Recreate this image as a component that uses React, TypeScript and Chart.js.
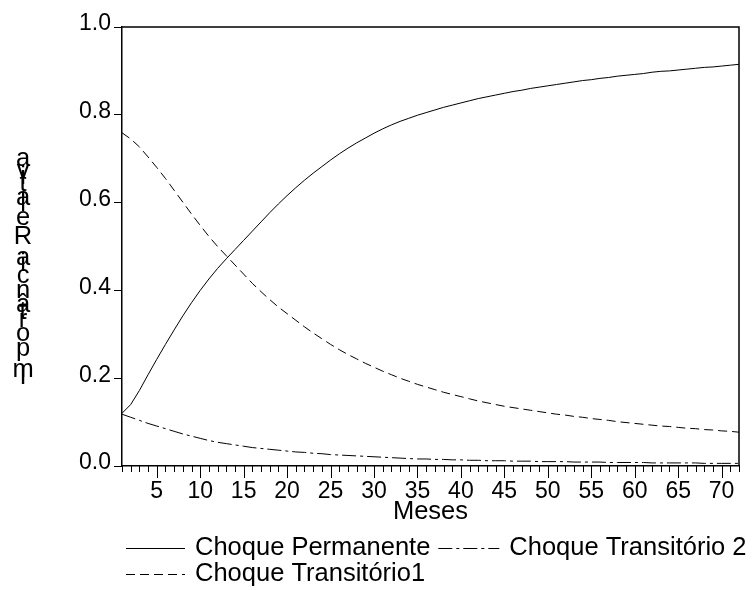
import React, { useEffect, useRef } from 'react';
import { Chart, registerables } from 'chart.js';

Chart.register(...registerables);

// Horizon in months (x categories)
const months: number[] = Array.from({ length: 72 }, (_, i) => i + 1);

// Share of the forecast-error variance explained by each shock
const permanente: number[] = [
  0.120, 0.140, 0.172, 0.208, 0.243, 0.277, 0.310, 0.342, 0.372, 0.400,
  0.426, 0.450, 0.472, 0.493, 0.514, 0.535, 0.556, 0.577, 0.597, 0.616,
  0.634, 0.651, 0.667, 0.682, 0.697, 0.711, 0.724, 0.736, 0.747, 0.758,
  0.768, 0.777, 0.785, 0.792, 0.799, 0.805, 0.811, 0.817, 0.822, 0.827,
  0.832, 0.837, 0.841, 0.845, 0.849, 0.853, 0.856, 0.860, 0.863, 0.866,
  0.869, 0.872, 0.875, 0.878, 0.880, 0.883, 0.885, 0.888, 0.890, 0.892,
  0.894, 0.897, 0.899, 0.900, 0.902, 0.904, 0.906, 0.908, 0.909, 0.911,
  0.913, 0.915,
];

const transitorio1: number[] = [
  0.759, 0.745, 0.727, 0.704, 0.680, 0.655, 0.628, 0.601, 0.574, 0.548,
  0.523, 0.500, 0.479, 0.458, 0.437, 0.416, 0.397, 0.379, 0.362, 0.347,
  0.332, 0.317, 0.303, 0.290, 0.277, 0.265, 0.254, 0.244, 0.234, 0.225,
  0.216, 0.208, 0.200, 0.193, 0.186, 0.180, 0.174, 0.168, 0.163, 0.158,
  0.153, 0.148, 0.144, 0.140, 0.136, 0.133, 0.130, 0.127, 0.124, 0.121,
  0.118, 0.116, 0.113, 0.111, 0.108, 0.106, 0.104, 0.101, 0.099, 0.097,
  0.095, 0.093, 0.091, 0.090, 0.088, 0.086, 0.085, 0.083, 0.082, 0.080,
  0.079, 0.077,
];

const transitorio2: number[] = [
  0.118, 0.111, 0.104, 0.097, 0.091, 0.085, 0.079, 0.073, 0.068, 0.063,
  0.058, 0.054, 0.051, 0.048, 0.045, 0.042, 0.040, 0.038, 0.036, 0.034,
  0.032, 0.031, 0.029, 0.028, 0.026, 0.025, 0.024, 0.023, 0.022, 0.021,
  0.020, 0.019, 0.018, 0.017, 0.016, 0.016, 0.015, 0.015, 0.014, 0.014,
  0.013, 0.013, 0.012, 0.012, 0.012, 0.011, 0.011, 0.011, 0.010, 0.010,
  0.010, 0.010, 0.009, 0.009, 0.009, 0.009, 0.008, 0.008, 0.008, 0.008,
  0.008, 0.007, 0.007, 0.007, 0.007, 0.007, 0.007, 0.006, 0.006, 0.006,
  0.006, 0.006,
];

const yTicks: number[] = [0, 0.2, 0.4, 0.6, 0.8, 1.0];
const xLabelEvery = 5;

const xTitle = 'Meses';
const yTitle = 'Importância Relativa';

const FONT = '"Liberation Sans", Arial, sans-serif';
const TICK_SIZE = 23;
const TEXT_SIZE = 25.5;

const DASH_T1 = [9, 5];
const DASH_T2 = [14, 4, 3, 4];

// Legend rows, drawn in this order
const legendRows: string[][] = [
  ['Choque Permanente', 'Choque Transitório 2'],
  ['Choque Transitório1'],
];

const toPoints = (vals: number[]) => months.map((m, i) => ({ x: m, y: vals[i] }));

const decorations = {
  id: 'decorations',
  afterDraw(chart: any) {
    const { ctx, chartArea: a, scales } = chart;
    ctx.save();
    ctx.strokeStyle = '#000';
    ctx.fillStyle = '#000';

    // top and right edges of the frame
    ctx.lineWidth = 1.5;
    ctx.beginPath();
    ctx.moveTo(a.left, a.top);
    ctx.lineTo(a.right, a.top);
    ctx.lineTo(a.right, a.bottom);
    ctx.stroke();

    // monthly tick marks, longer every five months
    ctx.lineWidth = 1;
    ctx.beginPath();
    for (const m of months) {
      const x = Math.round(scales.x.getPixelForValue(m)) + 0.5;
      const len = m % xLabelEvery === 0 ? 12 : 6;
      ctx.moveTo(x, a.bottom);
      ctx.lineTo(x, a.bottom + len);
    }
    ctx.stroke();

    // x title
    ctx.font = `${TEXT_SIZE}px ${FONT}`;
    ctx.textAlign = 'center';
    ctx.textBaseline = 'middle';
    ctx.fillText(xTitle, (a.left + a.right) / 2, 512);

    // y title: upright characters stepped upward by their advance widths,
    // each one sitting on its own baseline
    ctx.textBaseline = 'alphabetic';
    let y = a.bottom - 82;
    for (const ch of Array.from(yTitle)) {
      const w = ctx.measureText(ch).width;
      ctx.fillText(ch, 23, y);
      y -= w;
    }

    // legend
    const byLabel: Record<string, any> = {};
    chart.data.datasets.forEach((d: any) => (byLabel[d.label] = d));
    ctx.textAlign = 'left';
    ctx.textBaseline = 'middle';
    const rowY = [548, 574];
    legendRows.forEach((row, r) => {
      let x = 126;
      const ly = rowY[r];
      row.forEach((label, k) => {
        const ds = byLabel[label];
        const lineLen = k === 0 ? 59 : 61;
        ctx.save();
        ctx.lineWidth = 1;
        ctx.setLineDash(ds.borderDash || []);
        ctx.beginPath();
        ctx.moveTo(x, ly + 0.5);
        ctx.lineTo(x + lineLen, ly + 0.5);
        ctx.stroke();
        ctx.restore();
        x += lineLen + 10;
        ctx.fillText(label, x, ly);
        x += ctx.measureText(label).width + 8;
      });
    });

    ctx.restore();
  },
};

export default function App() {
  const canvasRef = useRef<HTMLCanvasElement | null>(null);

  useEffect(() => {
    const canvas = canvasRef.current;
    if (!canvas) return;
    const chart = new Chart(canvas, {
      type: 'line',
      data: {
        datasets: [
          {
            label: 'Choque Permanente',
            data: toPoints(permanente),
            borderColor: '#000',
            borderWidth: 1,
            pointRadius: 0,
            fill: false,
          },
          {
            label: 'Choque Transitório1',
            data: toPoints(transitorio1),
            borderColor: '#000',
            borderWidth: 1,
            borderDash: DASH_T1,
            pointRadius: 0,
            fill: false,
          },
          {
            label: 'Choque Transitório 2',
            data: toPoints(transitorio2),
            borderColor: '#000',
            borderWidth: 1,
            borderDash: DASH_T2,
            pointRadius: 0,
            fill: false,
          },
        ],
      },
      options: {
        animation: false,
        responsive: true,
        maintainAspectRatio: false,
        events: [],
        layout: { padding: { top: 27, right: 14, left: 0, bottom: 0 } },
        plugins: {
          legend: { display: false },
          title: { display: false },
          tooltip: { enabled: false },
        },
        scales: {
          x: {
            type: 'linear',
            min: months[0],
            max: months[months.length - 1],
            afterBuildTicks: (scale: any) => {
              scale.ticks = months.map((v) => ({ value: v }));
            },
            afterFit: (scale: any) => {
              scale.height = 124;
            },
            ticks: {
              autoSkip: false,
              maxRotation: 0,
              padding: 12,
              color: '#000',
              font: { family: FONT, size: TICK_SIZE },
              callback: (v: any) => (Number(v) % xLabelEvery === 0 ? String(v) : ''),
            },
            grid: { display: true, drawOnChartArea: false, drawTicks: false },
            border: { display: true, color: '#000', width: 1.5 },
          },
          y: {
            min: 0,
            max: 1,
            afterBuildTicks: (scale: any) => {
              scale.ticks = yTicks.map((v) => ({ value: v }));
            },
            afterFit: (scale: any) => {
              scale.width = 122;
            },
            ticks: {
              padding: 3,
              labelOffset: -3,
              color: '#000',
              font: { family: FONT, size: TICK_SIZE },
              callback: (v: any) => Number(v).toFixed(1),
            },
            grid: {
              display: true,
              drawOnChartArea: false,
              drawTicks: true,
              tickLength: 8,
              tickColor: '#000',
              tickWidth: 1,
            },
            border: { display: true, color: '#000', width: 1.5 },
          },
        },
      },
      plugins: [decorations],
    });
    return () => chart.destroy();
  }, []);

  return (
    <div style={{ position: 'absolute', left: 0, top: 0, width: 753, height: 590, background: '#fff' }}>
      <canvas ref={canvasRef} />
    </div>
  );
}
